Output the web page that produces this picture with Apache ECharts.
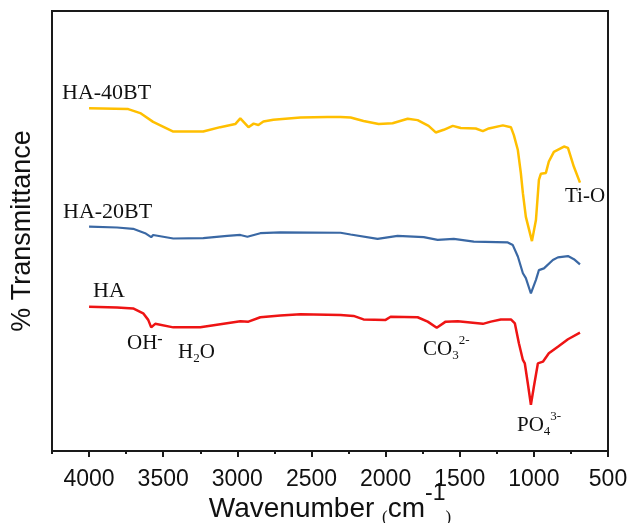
<!DOCTYPE html>
<html style="height: 100%">
<head>
    <meta charset="utf-8">
</head>
<body style="height: 100%; margin: 0">
<div id="container" style="width: 632px; height: 523px"></div>

<script type="text/javascript" src="https://cdn.jsdelivr.net/npm/echarts@6/dist/echarts.min.js"></script>
<script type="text/javascript">
    // FTIR spectra, x = wavenumber (cm-1), y = transmittance (arbitrary, offset per sample)

    var ha40Wn = [4000, 3736, 3655, 3568, 3432, 3230, 3115, 3014, 2980, 2925, 2890, 2858, 2824, 2757, 2574, 2392, 2304, 2236, 2149, 2047,
        1953, 1851, 1784, 1710, 1662, 1608, 1547, 1493, 1392, 1344, 1304, 1209, 1155, 1135, 1108, 1088, 1074, 1054, 1013, 986,
        966, 953, 919, 899, 865, 797, 770, 730, 689];
    var ha40T = [77.9, 77.7, 76.8, 74.8, 72.6, 72.6, 73.6, 74.3, 75.6, 73.6, 74.4, 74.1, 74.9, 75.3, 75.8, 75.9, 75.9, 75.8, 75.0, 74.3,
        74.5, 75.5, 75.2, 73.9, 72.4, 73.0, 73.9, 73.4, 73.3, 72.7, 73.3, 74.0, 73.6, 71.8, 68.4, 63.2, 58.6, 53.2, 47.7, 52.5,
        61.6, 63.0, 63.2, 65.8, 68.0, 69.2, 68.9, 64.6, 61.0];

    var ha20Wn = [4000, 3811, 3703, 3622, 3581, 3568, 3432, 3230, 3068, 2980, 2932, 2845, 2710, 2304, 2236, 2054, 1919, 1743, 1649, 1540,
        1405, 1176, 1142, 1108, 1074, 1054, 1020, 986, 966, 932, 872, 838, 770, 730, 689];
    var ha20T = [51.0, 50.8, 50.5, 49.5, 48.6, 49.1, 48.3, 48.4, 48.9, 49.1, 48.7, 49.5, 49.7, 49.6, 49.2, 48.2, 48.9, 48.6, 48.0, 48.2,
        47.6, 47.4, 46.8, 44.2, 40.4, 39.3, 35.8, 38.9, 41.1, 41.5, 43.4, 44.0, 44.3, 43.6, 42.4];

    var haWn = [4000, 3811, 3703, 3635, 3601, 3581, 3554, 3432, 3250, 3115, 2980, 2925, 2845, 2710, 2574, 2304, 2216, 2149, 2000, 1966,
        1784, 1716, 1655, 1595, 1513, 1344, 1290, 1223, 1155, 1128, 1101, 1074, 1061, 1041, 1020, 1000, 973, 939, 899, 838,
        770, 689];
    var haT = [32.8, 32.6, 32.4, 31.3, 29.8, 28.1, 28.9, 28.1, 28.1, 28.8, 29.5, 29.4, 30.4, 30.8, 31.1, 30.9, 30.7, 29.9, 29.8, 30.5,
        30.4, 29.4, 28.0, 29.4, 29.5, 28.9, 29.4, 29.9, 29.9, 29.0, 24.5, 20.7, 19.9, 15.4, 10.5, 14.6, 19.9, 20.3, 22.2, 23.7,
        25.4, 26.9];

    var tickLabels = [4000, 3500, 3000, 2500, 2000, 1500, 1000, 500];
    var minorTicks = [4250, 3750, 3250, 2750, 2250, 1750, 1250, 750];

    function pairs(xs, ys) {
        return xs.map(function (x, i) { return [x, ys[i]]; });
    }

    var serif = '"Liberation Serif", "Times New Roman", serif';
    var sans = '"Liberation Sans", Arial, sans-serif';
    var ink = '#111';

    // sub/superscripts: every token centred on the line, shifted with top/bottom padding
    var chemRich = {
        m: { fontFamily: serif, fontSize: 21, color: ink, lineHeight: 24, verticalAlign: 'middle' },
        sub: { fontFamily: serif, fontSize: 13, color: ink, lineHeight: 24, verticalAlign: 'middle', padding: [13, 0, 0, 0] },
        sup: { fontFamily: serif, fontSize: 13, color: ink, lineHeight: 24, verticalAlign: 'middle', padding: [0, 0, 17, 0] },
        sm: { fontFamily: serif, fontSize: 16, color: ink, lineHeight: 24, verticalAlign: 'middle', padding: [0, 0, 6, 0] }
    };

    function label(x, y, text, size) {
        return {
            type: 'text', x: x, y: y, silent: true,
            style: {
                text: text, rich: chemRich,
                font: (size || 21) + 'px ' + serif, fill: ink,
                align: 'left', textAlign: 'left',
                verticalAlign: 'middle', textVerticalAlign: 'middle'
            }
        };
    }

    var dom = document.getElementById('container');
    var myChart = echarts.init(dom);

    var option = {
        animation: false,
        backgroundColor: '#fff',
        grid: {
            left: 52, right: 24, top: 11, bottom: 72,
            containLabel: false,
            outerBoundsMode: 'none',
            show: true, borderColor: '#1a1a1a', borderWidth: 2
        },
        xAxis: [{
            type: 'value',
            position: 'bottom',
            min: 500, max: 4250,
            inverse: true,
            name: '{w|Wavenumber }{p|(}{w|cm}{s|-1}{p|)}',
            nameLocation: 'middle',
            nameGap: 43,
            nameMoveOverlap: false,
            nameTextStyle: {
                rich: {
                    w: { fontFamily: sans, fontSize: 28, color: ink, lineHeight: 30, verticalAlign: 'middle' },
                    p: { fontFamily: serif, fontSize: 17, color: ink, lineHeight: 30, verticalAlign: 'middle', padding: [17, 0, 0, 0] },
                    s: { fontFamily: sans, fontSize: 23, color: ink, lineHeight: 30, verticalAlign: 'middle', padding: [0, 0, 30, 0] }
                }
            },
            axisLine: { show: true, lineStyle: { color: '#1a1a1a', width: 2 } },
            axisTick: { show: true, inside: false, length: 6, customValues: tickLabels, lineStyle: { color: '#1a1a1a', width: 2 } },
            axisLabel: {
                customValues: tickLabels, margin: 17, fontFamily: sans, fontSize: 23, color: ink,
                formatter: function (v) { return String(v); }
            },
            splitLine: { show: false }
        }, {
            type: 'value',
            position: 'bottom',
            min: 500, max: 4250,
            inverse: true,
            axisLine: { show: false },
            axisTick: { show: true, inside: false, length: 3, customValues: minorTicks, lineStyle: { color: '#1a1a1a', width: 2 } },
            axisLabel: { show: false },
            splitLine: { show: false }
        }],
        yAxis: {
            type: 'value',
            min: 0, max: 100,
            name: '% Transmittance',
            nameLocation: 'middle',
            nameGap: 16,
            nameTextStyle: { fontFamily: sans, fontSize: 27, color: ink },
            axisLine: { show: true, lineStyle: { color: '#1a1a1a', width: 2 } },
            axisTick: { show: false },
            axisLabel: { show: false },
            splitLine: { show: false }
        },
        series: [{
            name: 'HA-40BT', type: 'line', showSymbol: false,
            data: pairs(ha40Wn, ha40T),
            lineStyle: { color: '#FFBF00', width: 2.5 }
        }, {
            name: 'HA-20BT', type: 'line', showSymbol: false,
            data: pairs(ha20Wn, ha20T),
            lineStyle: { color: '#3A68A4', width: 2.2 }
        }, {
            name: 'HA', type: 'line', showSymbol: false,
            data: pairs(haWn, haT),
            lineStyle: { color: '#EE1414', width: 2.5 }
        }],
        graphic: [
            label(62, 93, 'HA-40BT', 22),
            label(63, 212, 'HA-20BT', 22),
            label(93, 291, 'HA', 22),
            label(127, 343, '{m|OH}{sm|-}'),
            label(178, 352, '{m|H}{sub|2}{m|O}'),
            label(423, 349, '{m|CO}{sub|3}{sup|2-}'),
            label(517, 425, '{m|PO}{sub|4}{sup|3-}'),
            label(565, 196, 'Ti-O')
        ]
    };

    myChart.setOption(option);
</script>
</body>
</html>
